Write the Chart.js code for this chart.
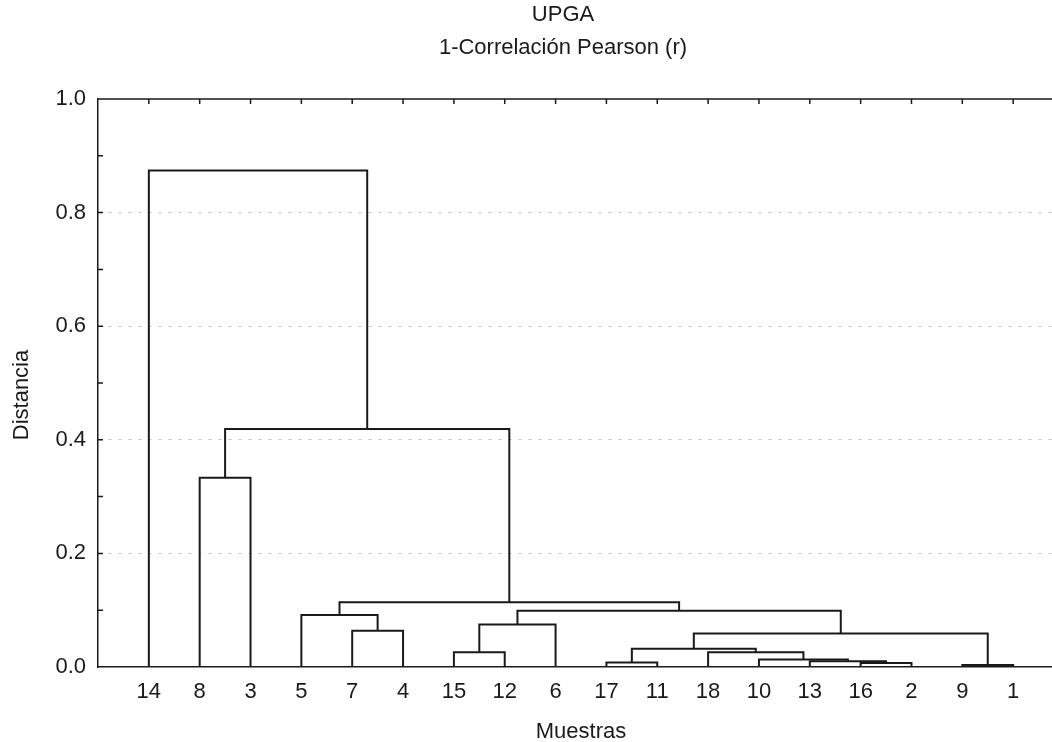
<!DOCTYPE html>
<html>
<head>
<meta charset="utf-8">
<script src="https://cdn.jsdelivr.net/npm/chart.js@4.4.1/dist/chart.umd.min.js"></script>
<style>
  html, body { margin: 0; padding: 0; background: #fff; overflow: hidden; }
  #caja { width: 1070px; height: 742px; }
</style>
</head>
<body>
<div id="caja"><canvas id="dendro"></canvas></div>
<script>
// orden de las hojas en el eje X
const muestras = ["14", "8", "3", "5", "7", "4", "15", "12", "6", "17", "11", "18", "10", "13", "16", "2", "9", "1"];

// uniones del dendrograma: G1..G17 son los grupos que se van formando
const unionIzq = ["16", "13", "10", "18", "17", "G5", "9", "G6", "15", "G9", "G10", "7", "5", "G13", "8", "G15", "14"];
const unionDer = ["2", "G1", "G2", "G3", "11", "G4", "1", "G7", "12", "6", "G8", "4", "G12", "G11", "3", "G14", "G16"];
const alturas = [0.007, 0.010, 0.013, 0.026, 0.008, 0.032, 0.0035, 0.059, 0.026, 0.075, 0.099, 0.064, 0.0915, 0.114, 0.333, 0.419, 0.874];

const yTicks = [0, 0.2, 0.4, 0.6, 0.8, 1.0];

const FUENTE = "'Liberation Sans', Arial, sans-serif";
const TINTA = "#1a1a1a";

// posición de cada nodo: hojas por su índice, grupos en el centro de sus hijos
const nodos = {};
muestras.forEach((m, i) => { nodos[m] = { x: i, h: 0 }; });

const datasets = alturas.map((h, k) => {
  const a = nodos[unionIzq[k]];
  const b = nodos[unionDer[k]];
  nodos["G" + (k + 1)] = { x: (a.x + b.x) / 2, h };
  return {
    data: [
      { x: a.x, y: a.h },
      { x: a.x, y: h },
      { x: b.x, y: h },
      { x: b.x, y: b.h },
    ],
    borderColor: TINTA,
    borderWidth: 2,
    pointRadius: 0,
    tension: 0,
    fill: false,
  };
});

// títulos, eje Y rotulado y marcas pequeñas hacia dentro
const decoracion = {
  id: "decoracion",
  afterDraw(chart) {
    const { ctx, chartArea } = chart;
    const x = chart.scales.x;
    const y = chart.scales.y;
    ctx.save();
    ctx.strokeStyle = TINTA;
    ctx.lineWidth = 1.5;
    ctx.beginPath();
    ctx.moveTo(chartArea.left, chartArea.top);
    ctx.lineTo(chartArea.right, chartArea.top);
    for (let i = 0; i < muestras.length; i++) {
      const px = x.getPixelForValue(i);
      ctx.moveTo(px, chartArea.top);
      ctx.lineTo(px, chartArea.top + 5);
    }
    for (let v = 1; v < 10; v++) {
      const py = y.getPixelForValue(v / 10);
      ctx.moveTo(chartArea.left, py);
      ctx.lineTo(chartArea.left + 5, py);
    }
    ctx.stroke();

    ctx.fillStyle = TINTA;
    ctx.textAlign = "center";
    ctx.textBaseline = "middle";
    ctx.font = "22px " + FUENTE;
    ctx.fillText("UPGA", 563, 15);
    ctx.fillText("1-Correlación Pearson (r)", 563, 48);

    ctx.translate(22, 395);
    ctx.rotate(-Math.PI / 2);
    ctx.fillText("Distancia", 0, 0);
    ctx.restore();
  },
};

new Chart(document.getElementById("dendro"), {
  type: "line",
  data: { datasets },
  plugins: [decoracion],
  options: {
    responsive: true,
    maintainAspectRatio: false,
    animation: false,
    layout: { padding: { top: 99, right: 6, left: 0, bottom: 0 } },
    plugins: {
      legend: { display: false },
      tooltip: { enabled: false },
    },
    scales: {
      x: {
        type: "linear",
        min: -1,
        max: 18,
        afterFit(scale) { scale.height = 75; },
        afterBuildTicks(scale) {
          scale.ticks = muestras.map((m, i) => ({ value: i }));
        },
        grid: { display: false, drawTicks: false },
        border: { display: true, color: TINTA, width: 1.5 },
        ticks: {
          autoSkip: false,
          maxRotation: 0,
          padding: 12,
          color: TINTA,
          font: { family: FUENTE, size: 22 },
          callback: (v) => muestras[v] ?? "",
        },
        title: {
          display: true,
          text: "Muestras",
          color: TINTA,
          font: { family: FUENTE, size: 22, lineHeight: 1 },
          padding: { top: 0, bottom: -1 },
        },
      },
      y: {
        min: 0,
        max: 1,
        afterFit(scale) { scale.width = 98; },
        afterBuildTicks(scale) {
          scale.ticks = yTicks.map((v) => ({ value: v }));
        },
        grid: {
          drawTicks: false,
          lineWidth: 1,
          color: (c) => (c.tick && c.tick.value > 0 && c.tick.value < 1 ? "#c4c4c4" : "rgba(0,0,0,0)"),
        },
        border: { display: true, color: TINTA, width: 1.5, dash: [3, 7] },
        ticks: {
          padding: 12,
          color: TINTA,
          font: { family: FUENTE, size: 22 },
          callback: (v) => Number(v).toFixed(1),
        },
      },
    },
  },
});
</script>
</body>
</html>
